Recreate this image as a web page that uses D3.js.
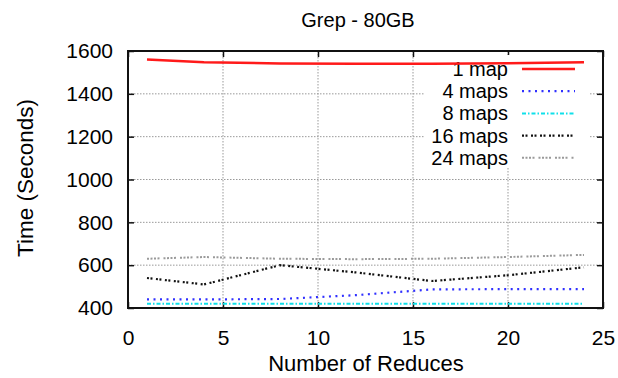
<!DOCTYPE html>
<html>
<head>
<meta charset="utf-8">
<script src="https://cdn.jsdelivr.net/npm/d3@7"></script>
<style>
  body { margin: 0; background: #fff; }
  text { font-family: "Liberation Sans", Arial, sans-serif; fill: #000; }
</style>
</head>
<body>
<svg id="chart" width="618" height="378"></svg>
<script>
// data
const reduces = [1, 4, 8, 12, 16, 20, 24];
const map1  = [1560, 1548, 1542, 1541, 1541, 1543, 1548];
const map4  = [440, 440, 442, 460, 487, 488, 488];
const map8  = [420, 420, 420, 420, 420, 420, 420];
const map16 = [540, 510, 600, 566, 526, 553, 590];
const map24 = [630, 638, 630, 628, 630, 638, 648];
const seriesNames = ["1 map", "4 maps", "8 maps", "16 maps", "24 maps"];
const xTicks = [0, 5, 10, 15, 20, 25];
const yTicks = [400, 600, 800, 1000, 1200, 1400, 1600];

const styles = [
  {color: "#ff1a1a", width: 2.5, dash: null},
  {color: "#3030ff", width: 2.2, dash: "2,4.5"},
  {color: "#10e0ea", width: 2, dash: "4,2,1.5,2"},
  {color: "#111", width: 2.2, dash: "2,1.5,2,3.5"},
  {color: "#9a9a9a", width: 2, dash: "2,1.5,2,1.5,2,1.5,2,4"}
];

const margin = {top: 51, right: 15, bottom: 70, left: 128};
const W = 618, H = 378;
const width = W - margin.left - margin.right;
const height = H - margin.top - margin.bottom;

const svg = d3.select("#chart");
const g = svg.append("g").attr("transform", `translate(${margin.left},${margin.top})`);

const x = d3.scaleLinear().domain([0, 25]).range([0, width]);
const y = d3.scaleLinear().domain([400, 1600]).range([height, 0]);

// grid
g.append("g").selectAll("line").data(yTicks.slice(1, -1)).join("line")
  .attr("x1", 0).attr("x2", width)
  .attr("y1", d => y(d)).attr("y2", d => y(d))
  .attr("stroke", "#999").attr("stroke-width", 1).attr("stroke-dasharray", "1.5,1.5");
g.append("g").selectAll("line").data(xTicks.slice(1, -1)).join("line")
  .attr("y1", 0).attr("y2", height)
  .attr("x1", d => x(d)).attr("x2", d => x(d))
  .attr("stroke", "#999").attr("stroke-width", 1).attr("stroke-dasharray", "1.5,1.5");

// axes, ticks pointing inward
g.append("g").attr("transform", `translate(0,${height})`)
  .call(d3.axisBottom(x).tickValues(xTicks).tickSize(-6).tickPadding(22).tickFormat(d3.format("d")));
g.append("g")
  .call(d3.axisLeft(y).tickValues(yTicks).tickSize(-6).tickPadding(15).tickFormat(d3.format("d")));
g.append("g").call(d3.axisTop(x).tickValues(xTicks).tickSize(-6).tickFormat(""));
g.append("g").attr("transform", `translate(${width},0)`)
  .call(d3.axisRight(y).tickValues(yTicks).tickSize(-6).tickFormat(""));
g.selectAll(".domain").remove();
g.selectAll(".tick line").attr("stroke", "#111").attr("stroke-width", 1.5);
g.selectAll(".tick text").style("font-size", "21px").attr("fill", "#000");

// legend box hides the grid behind it
const leg = g.append("g");
leg.append("rect").attr("x", 297).attr("y", 4).attr("width", 165).attr("height", 112).attr("fill", "#fff");

// lines
const allSeries = [map1, map4, map8, map16, map24];
const line = d3.line().x((d, i) => x(reduces[i])).y(d => y(d));
allSeries.forEach((vals, i) => {
  const s = styles[i];
  g.append("path").datum(vals)
    .attr("d", line)
    .attr("fill", "none")
    .attr("stroke", s.color)
    .attr("stroke-width", s.width)
    .attr("stroke-dasharray", s.dash);
});

seriesNames.forEach((name, i) => {
  const s = styles[i];
  const ly = 18 + i * 22.2;
  leg.append("text").attr("x", 380).attr("y", ly + 7)
    .attr("text-anchor", "end").style("font-size", "20px").text(name);
  leg.append("line").attr("x1", 394).attr("x2", 447).attr("y1", ly).attr("y2", ly)
    .attr("stroke", s.color).attr("stroke-width", s.width).attr("stroke-dasharray", s.dash);
});

g.append("rect").attr("width", width).attr("height", height)
  .attr("fill", "none").attr("stroke", "#111").attr("stroke-width", 2);

// titles
svg.append("text").attr("x", 358).attr("y", 27).attr("text-anchor", "middle")
  .style("font-size", "20px").text("Grep - 80GB");
svg.append("text").attr("x", 366).attr("y", 371).attr("text-anchor", "middle")
  .style("font-size", "22px").text("Number of Reduces");
svg.append("text").attr("transform", `translate(33,178) rotate(-90)`)
  .attr("text-anchor", "middle").style("font-size", "22.5px").text("Time (Seconds)");
</script>
</body>
</html>
